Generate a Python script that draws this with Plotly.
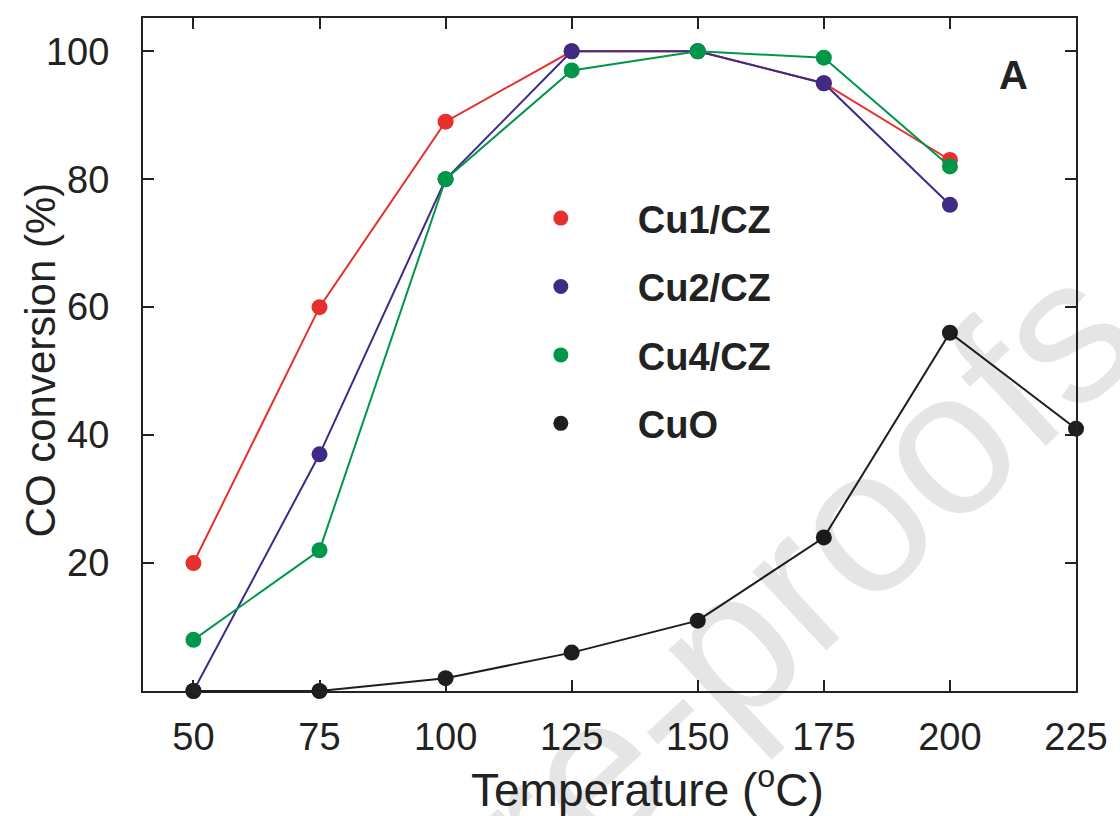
import plotly.graph_objects as go

temps = [50, 75, 100, 125, 150, 175, 200]
temps_cuo = [50, 75, 100, 125, 150, 175, 200, 225]
cu1 = [20, 60, 89, 100, 100, 95, 83]
cu2 = [0, 37, 80, 100, 100, 95, 76]
cu4 = [8, 22, 80, 97, 100, 99, 82]
cuo = [0, 0, 2, 6, 11, 24, 56, 41]
names = ["Cu1/CZ", "Cu2/CZ", "Cu4/CZ", "CuO"]
colors = ["#e5302d", "#3f2b86", "#00974a", "#1e1e1e"]
x_ticks = [50, 75, 100, 125, 150, 175, 200, 225]
y_ticks = [20, 40, 60, 80, 100]

FONT = "Liberation Sans, Arial, sans-serif"
fig = go.Figure()

series = [(temps, cu1), (temps, cu2), (temps, cu4), (temps_cuo, cuo)]
for (xs, ys), name, col in zip(series, names, colors):
    fig.add_trace(go.Scatter(x=xs, y=ys, mode="lines+markers", name=name,
                             line=dict(color=col, width=2),
                             marker=dict(color=col, size=16),
                             showlegend=False, cliponaxis=False))
for i, (name, col) in enumerate(zip(names, colors)):
    fig.add_trace(go.Scatter(x=[None], y=[None], mode="markers",
                             name="\u2003\u2002" + name, legendgroup=f"g{i}",
                             marker=dict(color=col, size=15), showlegend=True))

axis_common = dict(showline=True, linewidth=2, linecolor="#222", mirror="ticks",
                   ticks="inside", ticklen=11, tickwidth=2, tickcolor="#222",
                   showgrid=False, zeroline=False,
                   tickfont=dict(family=FONT, size=38, color="#222"))

fig.update_xaxes(range=[40, 225], tickvals=x_ticks, ticklabelstandoff=11, **axis_common)
fig.update_yaxes(range=[0, 105.2], tickvals=y_ticks, ticklabelstandoff=24, **axis_common)

fig.update_layout(
    width=1120, height=816,
    margin=dict(l=143, r=40, t=18, b=125),
    paper_bgcolor="white", plot_bgcolor="white",
    font=dict(family=FONT, color="#222"),
    legend=dict(x=0.4264, y=0.749, xanchor="left", yanchor="top",
                font=dict(family=FONT, size=38, color="#222", weight="bold"),
                tracegroupgap=16, bgcolor="rgba(0,0,0,0)"),
    annotations=[
        dict(text="Journal Pre-proofs", xref="paper", yref="paper", x=0.365, y=-0.27,
             xanchor="center", yanchor="middle",
             showarrow=False, textangle=-43,
             font=dict(family=FONT, size=205, color="rgba(0,0,0,0.1)")),
        dict(text="Temperature (<sup>o</sup>C)", xref="paper", yref="paper",
             x=(650 - 143) / 937, y=(691 - 787) / 673, showarrow=False,
             xanchor="center", yanchor="middle",
             font=dict(family=FONT, size=46, color="#222")),
        dict(text="CO conversion (%)", xref="paper", yref="paper",
             x=(40 - 143) / 937, y=(691 - 360) / 673, showarrow=False, textangle=-90,
             xanchor="center", yanchor="middle",
             font=dict(family=FONT, size=42, color="#222")),
        dict(text="<b>A</b>", xref="paper", yref="paper",
             x=(1017 - 143) / 937, y=(691 - 75) / 673, showarrow=False,
             xanchor="center", yanchor="middle",
             font=dict(family=FONT, size=40, color="#222")),
    ],
)

fig.write_html("out.html")
